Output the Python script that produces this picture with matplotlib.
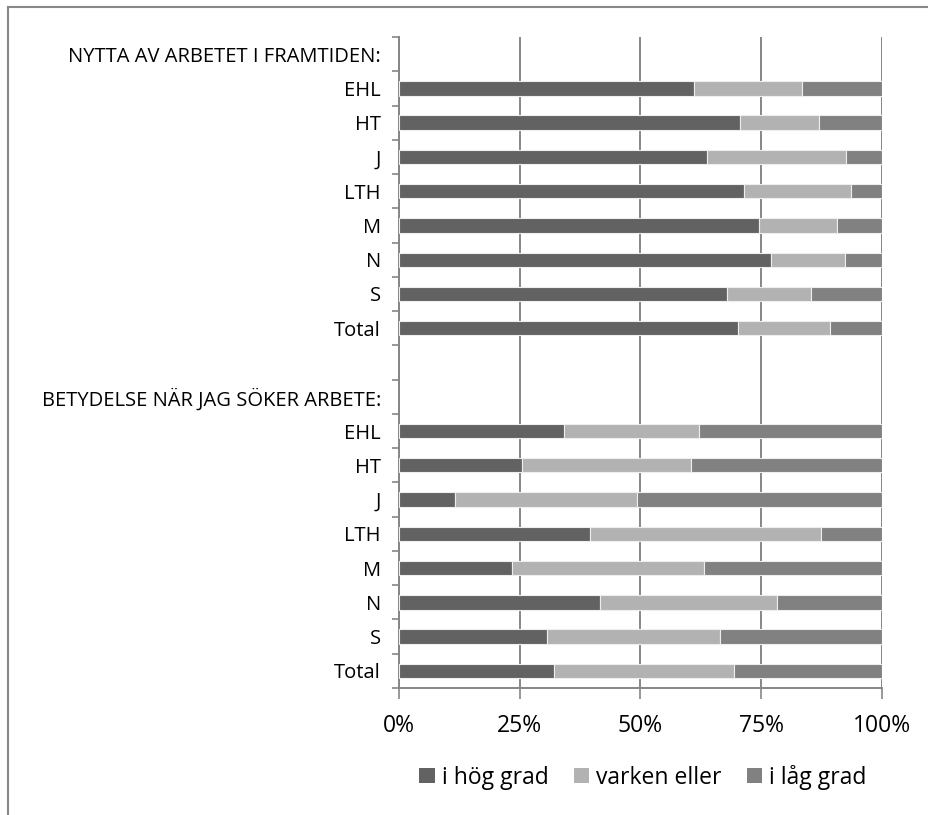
import matplotlib
matplotlib.use("Agg")
import matplotlib.pyplot as plt
from matplotlib.patches import Patch
import numpy as np

plt.rcParams['font.family'] = ['Open Sans', 'DejaVu Sans']

labels = ['NYTTA AV ARBETET I FRAMTIDEN:', 'EHL', 'HT', 'J', 'LTH', 'M', 'N', 'S', 'Total',
          '',
          'BETYDELSE NÄR JAG SÖKER ARBETE:', 'EHL', 'HT', 'J', 'LTH', 'M', 'N', 'S', 'Total']

# shares per row (None = header / blank row)
hog = [None, 0.611, 0.706, 0.638, 0.714, 0.745, 0.770, 0.679, 0.702,
       None,
       None, 0.342, 0.255, 0.116, 0.395, 0.234, 0.416, 0.306, 0.321]
varken = [None, 0.223, 0.164, 0.287, 0.222, 0.162, 0.153, 0.174, 0.190,
          None,
          None, 0.279, 0.350, 0.377, 0.479, 0.397, 0.367, 0.359, 0.373]

series_names = ['i hög grad', 'varken eller', 'i låg grad']
colors = ['#626262', '#b2b2b2', '#818181']

fig = plt.figure(figsize=(9.29, 8.15), dpi=100)
ax = fig.add_axes([399/929, 1-688/815, 483/929, 651/815])

y = np.arange(len(labels))
rows = [i for i in range(len(labels)) if hog[i] is not None]
h = np.array([hog[i] for i in rows])
v = np.array([varken[i] for i in rows])
l = 1 - h - v
yr = y[rows]
ax.barh(yr, h, height=0.42, color=colors[0], edgecolor='#eeeeee', linewidth=0.8, zorder=3)
ax.barh(yr, v, left=h, height=0.42, color=colors[1], edgecolor='#eeeeee', linewidth=0.8, zorder=3)
ax.barh(yr, l, left=h + v, height=0.42, color=colors[2], edgecolor='#eeeeee', linewidth=0.8, zorder=3)

ax.set_ylim(len(labels) - 0.5, -0.5)
ax.set_xlim(0, 1)
ax.set_yticks(y)
ax.set_yticklabels(labels, fontsize=14.5)
ax.set_yticks(np.arange(len(labels) + 1) - 0.5, minor=True)
ax.tick_params(axis='y', which='major', length=0, pad=13)
ax.tick_params(axis='y', which='minor', length=5, width=1.2, color='#868686')
ax.set_xticks([0, 0.25, 0.5, 0.75, 1.0])
ax.set_xticklabels(['0%', '25%', '50%', '75%', '100%'], fontsize=16.5)
ax.tick_params(axis='x', length=8, width=1.2, color='#868686', pad=11)
ax.grid(axis='x', color='#868686', linewidth=1.4, zorder=0)
for s in ['top', 'right']:
    ax.spines[s].set_visible(False)
for s in ['left', 'bottom']:
    ax.spines[s].set_color('#868686')
    ax.spines[s].set_linewidth(1.4)

handles = [Patch(facecolor=c, label=n) for c, n in zip(colors, series_names)]
fig.legend(handles=handles, loc='center', bbox_to_anchor=(643/929, 1-777/815), ncol=3,
           frameon=False, fontsize=16.5, handlelength=0.68, handleheight=0.68,
           handletextpad=0.3, columnspacing=1.1)

# outer frame (left and top edges)
fig.add_artist(plt.Line2D([8/929, 8/929], [0, 1-7/815], color='#888888', linewidth=1.5))
fig.add_artist(plt.Line2D([8/929, 1], [1-7/815, 1-7/815], color='#888888', linewidth=1.5))

fig.savefig('out.png', dpi=100)
